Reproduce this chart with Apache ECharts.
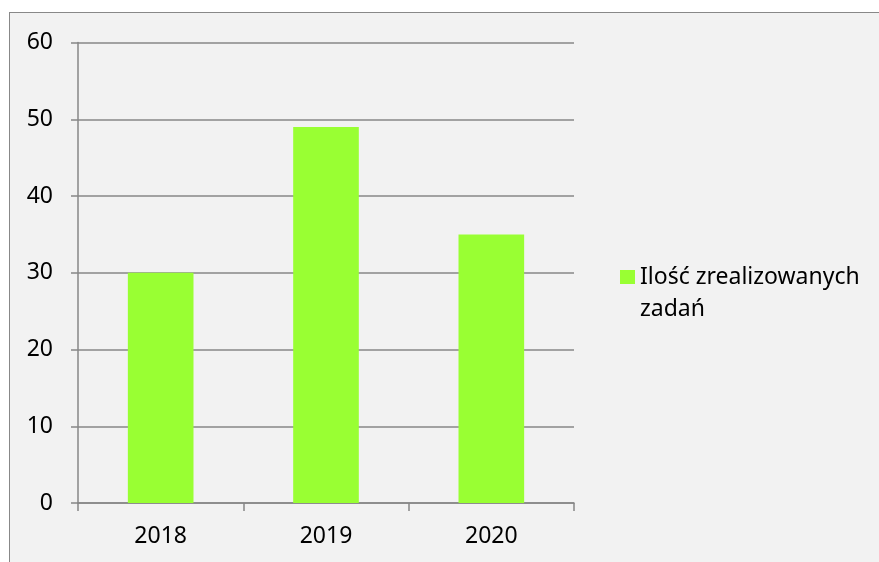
<!DOCTYPE html>
<html>
<head>
<meta charset="utf-8">
<script src="https://cdn.jsdelivr.net/npm/echarts@6/dist/echarts.min.js"></script>
<style>
  html, body { margin: 0; padding: 0; background: #fff; }
  #frame {
    position: absolute; left: 9px; top: 12px; right: 0; bottom: 0;
    border-top: 1.5px solid #888; border-left: 1.5px solid #888;
    background: #f2f2f2;
  }
  #chart { position: absolute; left: 0; top: 0; width: 879px; height: 562px; }
</style>
</head>
<body>
<div id="frame"></div>
<div id="chart"></div>
<script>
// dane z wykresu
const years = ['2018', '2019', '2020']
const tasksDone = [30, 49, 35]
const seriesName = 'Ilość zrealizowanych zadań'

const chart = echarts.init(document.getElementById('chart'))
const font = '"Noto Sans", sans-serif'
const lineColor = '#878787'

chart.setOption({
  backgroundColor: 'transparent',
  animation: false,
  grid: { left: 78, top: 42.5, right: 305, bottom: 59 },
  legend: {
    left: 615,
    top: 224,
    icon: 'rect',
    itemWidth: 15,
    itemHeight: 14,
    itemGap: 7,
    // pusta linia na górze, żeby ikonka stała przy pierwszym wierszu
    formatter: (name) => '\n' + name.replace(' zadań', '\nzadań'),
    textStyle: {
      fontFamily: font,
      fontSize: 23,
      color: '#000',
      lineHeight: 32
    }
  },
  xAxis: {
    type: 'category',
    data: years,
    axisLine: { lineStyle: { color: lineColor, width: 1.5 } },
    axisTick: { show: true, length: 8, lineStyle: { color: lineColor, width: 1.5 } },
    axisLabel: { fontFamily: font, fontSize: 23, color: '#000', margin: 22 }
  },
  yAxis: {
    type: 'value',
    min: 0,
    max: 60,
    interval: 10,
    axisLine: { show: true, lineStyle: { color: lineColor, width: 1.5 } },
    axisTick: { show: true, length: 7, lineStyle: { color: lineColor, width: 1.5 } },
    splitLine: { lineStyle: { color: lineColor, width: 1.5 } },
    axisLabel: { fontFamily: font, fontSize: 23, color: '#000', margin: 25 }
  },
  series: [
    {
      name: seriesName,
      type: 'bar',
      data: tasksDone,
      barWidth: '39.7%',
      itemStyle: { color: '#99ff33' }
    }
  ]
})
</script>
</body>
</html>
